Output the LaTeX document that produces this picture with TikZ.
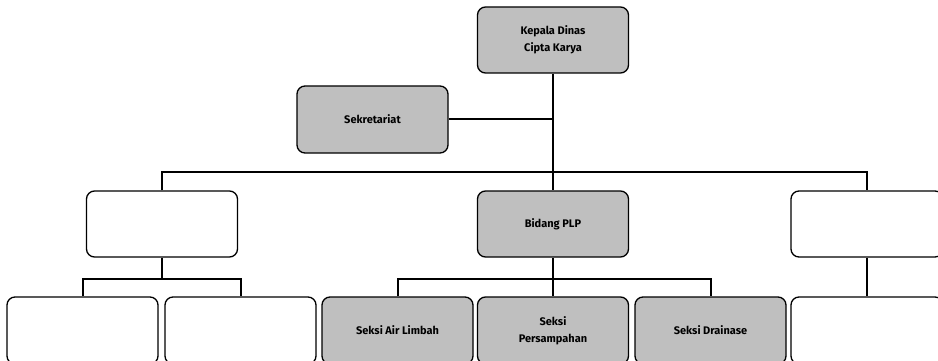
\documentclass[tikz,border=0pt]{standalone}
\usepackage{fontspec}
\setmainfont{Fira Sans}
\usepackage{tikz}

\begin{document}
\begin{tikzpicture}[x=1pt,y=-1pt,line width=2pt]
    \tikzstyle{unit}=[draw,rounded corners=8pt,line width=1.3pt,minimum width=151pt,minimum height=66pt,inner sep=0pt,align=center,font=\fontsize{11}{17}\selectfont\bfseries]
    \tikzstyle{filled unit}=[unit, fill=black!25]
    \tikzstyle{empty unit}=[unit, fill=white]

    \useasboundingbox (0,0) rectangle (938,361);
    \clip (0,0) rectangle (938,361);

    % top level
    \node[filled unit] (K) at (553,40) {Kepala Dinas\\Cipta Karya};
    \node[filled unit,minimum height=67pt] (S) at (372.5,119.5) {Sekretariat};

    % second row
    \node[empty unit] (L-1) at (162,224) {};
    \node[filled unit] (B) at (553,224) {Bidang PLP};
    \node[empty unit,minimum width=152pt] (R-1) at (867,224) {};

    % third row
    \node[empty unit,minimum height=67pt] (L-2) at (82.5,330.5) {};
    \node[empty unit,minimum height=67pt] (L-3) at (240.5,330.5) {};
    \node[filled unit,minimum height=67pt] (A) at (397.5,330.5) {Seksi Air Limbah};
    \node[filled unit,minimum height=67pt] (P) at (553,330.5) {Seksi\\Persampahan};
    \node[filled unit,minimum height=67pt] (D) at (710.5,330.5) {Seksi Drainase};
    \node[empty unit,minimum width=152pt,minimum height=67pt] (R-2) at (867,330.5) {};

    % bus lines
    \coordinate (top bus) at (553,172);
    \coordinate (plp bus) at (553,279);
    \coordinate (left bus) at (162,279);

    \draw (K) -- (B);
    \draw (S) -- (S -| K);
    \draw (L-1.north) |- (top bus) -| (R-1.north);
    \draw (B) -- (P);
    \draw (A.north) |- (plp bus) -| (D.north);
    \draw (L-1) -- (left bus);
    \draw (L-2.north) |- (left bus) -| (L-3.north);
    \draw (R-1) -- (R-2);
\end{tikzpicture}
\end{document}
